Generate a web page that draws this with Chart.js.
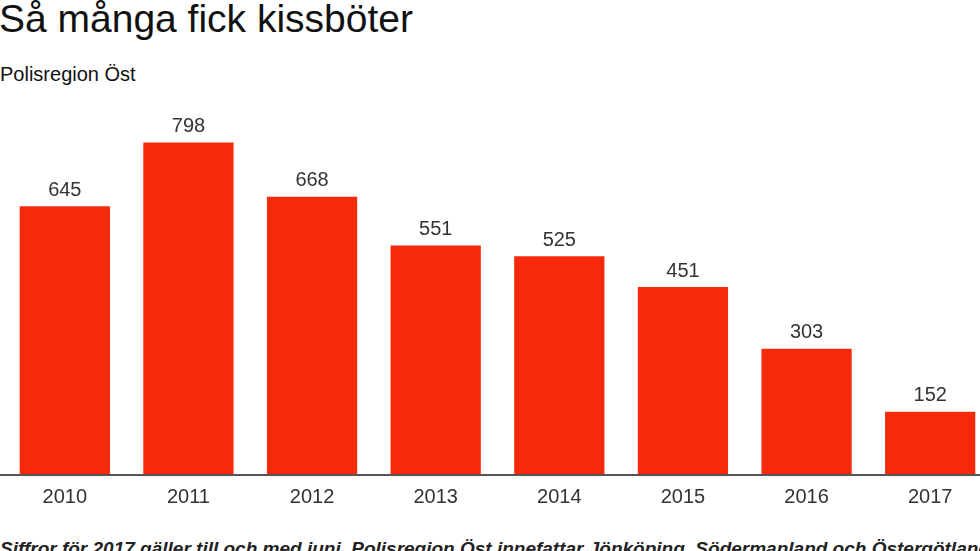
<!DOCTYPE html>
<html>
<head>
<meta charset="utf-8">
<script src="https://cdn.jsdelivr.net/npm/chart.js@4"></script>
<style>
  html, body { margin: 0; padding: 0; background: #fff; overflow: hidden; width: 980px; height: 551px; }
  body { position: relative; font-family: "Liberation Sans", Arial, sans-serif; }
  #title { position: absolute; left: -1px; top: -3px; font-size: 39px; color: #111; white-space: nowrap; }
  #sub { position: absolute; left: 0; top: 63px; font-size: 20px; color: #111; white-space: nowrap; }
  #wrap { position: absolute; left: 0; top: 100px; width: 992px; height: 411px; }
  #foot { position: absolute; left: 0; top: 538px; font-size: 19px; font-style: italic; font-weight: bold; color: #222; white-space: nowrap; }
</style>
</head>
<body>
<div id="title">Så många fick kissböter</div>
<div id="sub">Polisregion Öst</div>
<div id="wrap"><canvas id="canvas"></canvas></div>
<div id="foot">Siffror för 2017 gäller till och med juni. Polisregion Öst innefattar Jönköping, Södermanland och Östergötland.</div>
<script>
    var years = ["2010", "2011", "2012", "2013", "2014", "2015", "2016", "2017"];
    var fines = [645, 798, 668, 551, 525, 451, 303, 152];

    // value labels above bars + full-width baseline
    var valueLabels = {
        id: 'valueLabels',
        afterDatasetsDraw: function(chart) {
            var ctx = chart.ctx;
            var meta = chart.getDatasetMeta(0);
            ctx.save();
            ctx.font = '20px "Liberation Sans", Arial, sans-serif';
            ctx.fillStyle = '#333';
            ctx.textAlign = 'center';
            ctx.textBaseline = 'middle';
            meta.data.forEach(function(bar, i) {
                ctx.fillText(fines[i], bar.x, bar.y - 16);
            });
            var y = chart.chartArea.bottom;
            ctx.strokeStyle = '#555';
            ctx.lineWidth = 2;
            ctx.beginPath();
            ctx.moveTo(0, y);
            ctx.lineTo(chart.width, y);
            ctx.stroke();
            ctx.restore();
        }
    };

    var config = {
        type: 'bar',
        data: {
            labels: years,
            datasets: [{
                data: fines,
                backgroundColor: '#f62a0b',
                categoryPercentage: 1,
                barPercentage: 0.73
            }]
        },
        options: {
            responsive: true,
            maintainAspectRatio: false,
            animation: false,
            layout: { padding: { left: 3, top: 0, right: 0, bottom: 0 } },
            plugins: {
                legend: { display: false },
                tooltip: { enabled: false }
            },
            scales: {
                x: {
                    grid: { display: false },
                    border: { display: false },
                    ticks: {
                        color: '#333',
                        padding: 2,
                        font: { family: '"Liberation Sans", Arial, sans-serif', size: 20 }
                    }
                },
                y: {
                    display: false,
                    min: 0,
                    max: 900
                }
            }
        },
        plugins: [valueLabels]
    };

    window.onload = function() {
        window.myBar = new Chart(document.getElementById("canvas"), config);
    };
</script>
</body>
</html>
